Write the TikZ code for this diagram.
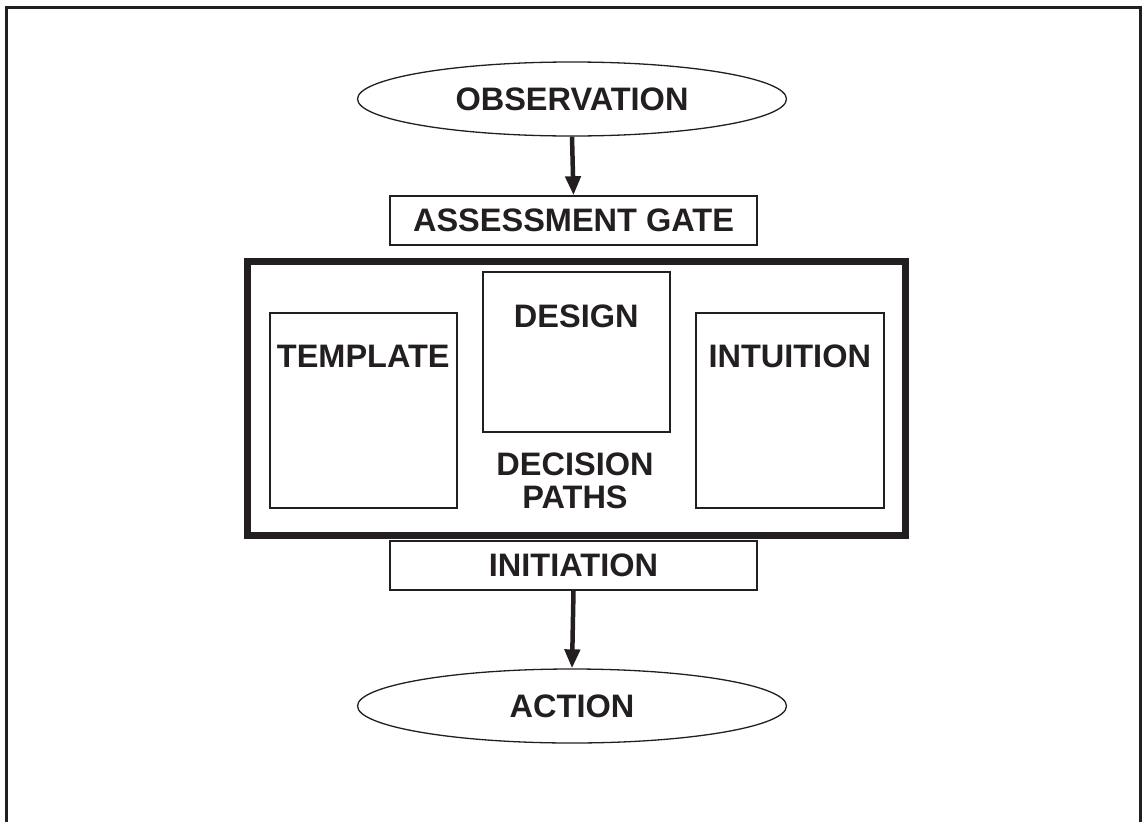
\documentclass[tikz,border=0pt]{standalone}
\usepackage{fontspec}
\setmainfont{Liberation Sans}
\usetikzlibrary{shapes.geometric,arrows.meta,calc}
\definecolor{ink}{HTML}{231F20}
\begin{document}
\begin{tikzpicture}[x=1pt,y=-1pt,
  every node/.style={text=ink,font=\fontsize{32.5}{36}\selectfont\bfseries,inner sep=0pt},
  oval/.style={draw=ink,line width=1.3pt,ellipse,minimum width=429pt,minimum height=74pt},
  stage/.style={draw=ink,line width=1.5pt,rectangle,minimum width=367pt,minimum height=49pt},
  pathbox/.style={draw=ink,line width=1.5pt,rectangle,anchor=north west},
  flow/.style={draw=ink,line width=4.5pt,-{Triangle[width=15pt,length=19pt]}}]
  \useasboundingbox (0,0) rectangle (1146,822);
  % open frame
  \draw[ink,line width=3pt] (6,822) -- (6,7) -- (1140,7) -- (1140,822);

  % top and bottom stages
  \node[oval] (obs) at (572,99) {OBSERVATION};
  \node[stage] (gate) at (573.5,220.5) {ASSESSMENT GATE};
  \node[stage] (init) at (573.5,565.5) {INITIATION};
  \node[oval] (act) at (572,706) {ACTION};

  % decision paths container
  \node[draw=ink,line width=7pt,rectangle,anchor=north west,minimum width=658pt,minimum height=274pt] (paths) at (244,258) {};
  \node[pathbox,minimum width=187pt,minimum height=195pt] (tmpl) at (269,312) {};
  \node[pathbox,minimum width=187pt,minimum height=160pt] (dsgn) at (482,271) {};
  \node[pathbox,minimum width=188pt,minimum height=195pt] (intu) at (695,312) {};

  \node (tmpltxt) at ($(tmpl.north)+(0,44)$) {TEMPLATE};
  \node (dsgntxt) at ($(dsgn.north)+(0,45)$) {DESIGN};
  \node (intutxt) at ($(intu.north)+(0,44)$) {INTUITION};
  \node[align=center,font=\fontsize{32.5}{32.5}\selectfont\bfseries] (pathstxt) at (575,481) {DECISION\\PATHS};

  % connectors
  \draw[flow] (obs.south) -- (gate.north);
  \draw[flow] (init.south) -- (act.north);
\end{tikzpicture}
\end{document}
